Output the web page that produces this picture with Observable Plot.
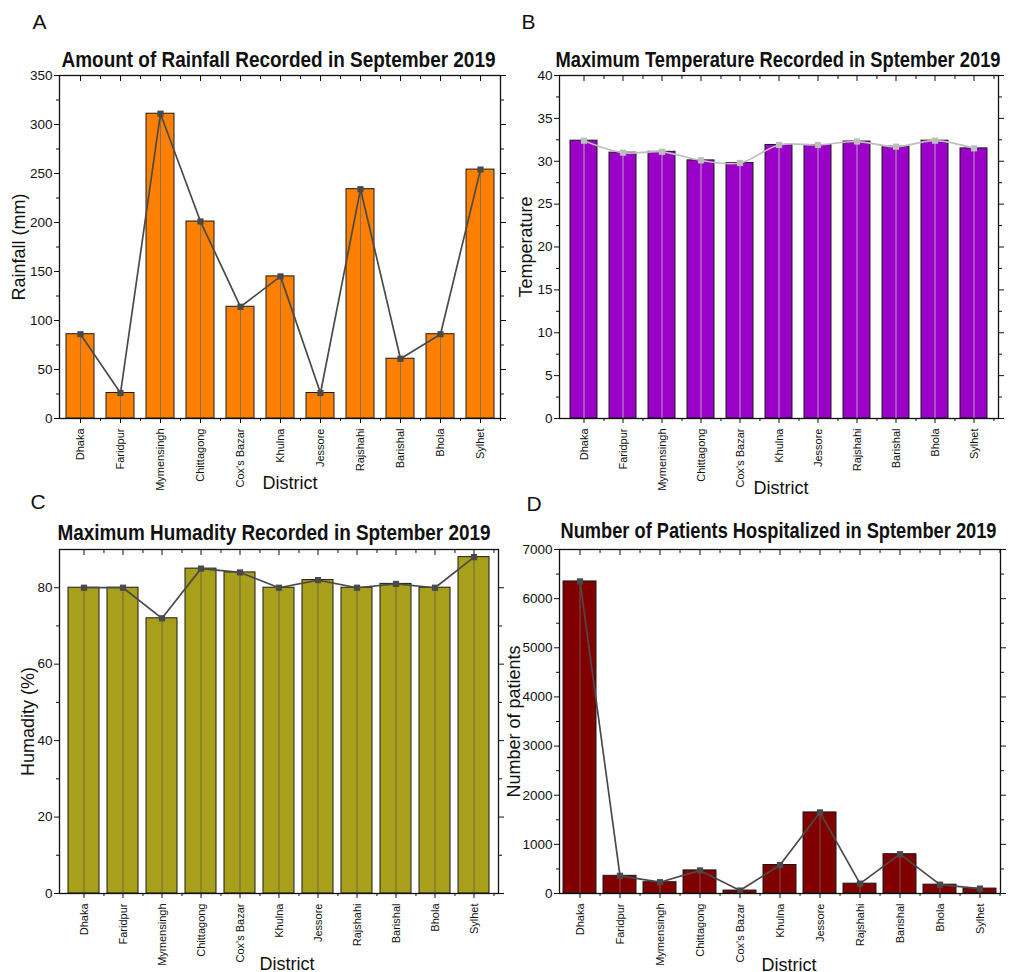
<!DOCTYPE html>
<html>
<head>
<meta charset="utf-8">
<script src="https://cdn.jsdelivr.net/npm/d3@7"></script>
<script src="https://cdn.jsdelivr.net/npm/@observablehq/plot@0.6"></script>
<style>
  html, body { margin: 0; padding: 0; background: #fff; }
  #wrap { position: relative; width: 1016px; height: 972px; overflow: hidden; font-family: "Liberation Sans", Arial, sans-serif; }
  .panel { position: absolute; }
</style>
</head>
<body>
<div id="wrap">
  <div class="panel" id="pA" style="left:0px;top:0px"></div>
  <div class="panel" id="pB" style="left:508px;top:0px"></div>
  <div class="panel" id="pC" style="left:0px;top:490px"></div>
  <div class="panel" id="pD" style="left:508px;top:490px"></div>
</div>
<script>
const districts = ["Dhaka", "Faridpur", "Mymensingh", "Chittagong", "Cox's Bazar", "Khulna", "Jessore", "Rajshahi", "Barishal", "Bhola", "Sylhet"];

const rainfall    = [86, 26, 311, 201, 114, 145, 26, 234, 61, 86, 254];
const temperature = [32.4, 31.0, 31.1, 30.1, 29.8, 31.9, 31.9, 32.3, 31.7, 32.4, 31.5];
const humidity    = [80, 80, 72, 85, 84, 80, 82, 80, 81, 80, 88];
const patients    = [6350, 360, 230, 470, 60, 580, 1650, 200, 800, 180, 100];

const rainMajor = [0, 50, 100, 150, 200, 250, 300, 350];
const rainMinor = [25, 75, 125, 175, 225, 275, 325];
const tempMajor = [0, 5, 10, 15, 20, 25, 30, 35, 40];
const tempMinor = [2.5, 7.5, 12.5, 17.5, 22.5, 27.5, 32.5, 37.5];
const humMajor  = [0, 20, 40, 60, 80];
const humMinor  = [10, 30, 50, 70];
const patMajor  = [0, 1000, 2000, 3000, 4000, 5000, 6000, 7000];
const patMinor  = [500, 1500, 2500, 3500, 4500, 5500, 6500];

const titles = {
  A: "Amount of Rainfall Recorded in September 2019",
  B: "Maximum Temperature Recorded in Sptember 2019",
  C: "Maximum Humadity Recorded in Sptember 2019",
  D: "Number of Patients Hospitalized in Sptember 2019"
};
const ylabels = { A: "Rainfall (mm)", B: "Temperature", C: "Humadity (%)", D: "Number of patients" };
const xlabel = "District";

function makePanel(cfg) {
  const data = districts.map((d, i) => ({ district: d, value: cfg.values[i] }));
  const m = cfg.margin;
  const step = (cfg.width - m.left - m.right) / districts.length;
  const font = "'Liberation Sans', Arial, sans-serif";
  const svg = Plot.plot({
    width: cfg.width,
    height: cfg.height,
    marginLeft: m.left, marginRight: m.right, marginTop: m.top, marginBottom: m.bottom,
    style: { fontFamily: font, background: "transparent", overflow: "visible", color: "#111" },
    x: { type: "band", domain: districts, paddingInner: cfg.padding, paddingOuter: cfg.padding / 2, label: null },
    y: { domain: cfg.yDomain, label: null },
    marks: [
      Plot.barY(data, { x: "district", y: "value", fill: cfg.color, stroke: "#1a1a1a", strokeWidth: 1 }),
      Plot.ruleX(data, { x: "district", y1: 0, y2: "value", stroke: cfg.dropColor, strokeWidth: 1, strokeOpacity: 0.8 }),
      Plot.line(data, { x: "district", y: "value", stroke: cfg.lineColor, strokeWidth: 1.7, curve: cfg.curve }),
      Plot.dot(data, { x: "district", y: "value", symbol: "square", fill: cfg.lineColor, r: 3.5 }),
      Plot.frame({ stroke: "#111", strokeWidth: 1.3 }),
      Plot.axisY(cfg.yMajor, { anchor: "left", tickSize: 5, tickPadding: 2, fontSize: 13.5, tickFormat: d => String(d), label: null }),
      Plot.axisY(cfg.yMinor, { anchor: "left", tickSize: 3, text: null, label: null }),
      Plot.axisY(cfg.yMajor, { anchor: "right", tickSize: 5, text: null, label: null }),
      Plot.axisY(cfg.yMinor, { anchor: "right", tickSize: 3, text: null, label: null }),
      Plot.axisX({ anchor: "bottom", tickSize: 5, tickRotate: -90, fontSize: 11, tickPadding: 5, label: null }),
      Plot.axisX({ anchor: "bottom", tickSize: 3, text: null, label: null, dx: step / 2 }),
      Plot.axisX({ anchor: "top", tickSize: -5, text: null, label: null }),
      Plot.axisX({ anchor: "top", tickSize: -3, text: null, label: null, dx: step / 2 }),
      Plot.text([cfg.title], { frameAnchor: "top-left", textAnchor: "start", lineAnchor: "bottom", dx: cfg.titleDx, dy: cfg.titleDy, fontSize: 22.5, fontWeight: "bold", fill: "#111" }),
      Plot.text([cfg.letter], { frameAnchor: "top-left", textAnchor: "start", lineAnchor: "bottom", dx: cfg.letterDx, dy: cfg.letterDy, fontSize: 21, fill: "#111" }),
      Plot.text([cfg.ylabel], { frameAnchor: "left", rotate: -90, textAnchor: "middle", dx: cfg.ylabelDx, fontSize: 18, fill: "#111" }),
      Plot.text([xlabel], { frameAnchor: "bottom", textAnchor: "middle", lineAnchor: "bottom", dx: cfg.xlabelDx, dy: cfg.xlabelDy, fontSize: 18, fill: "#111" })
    ]
  });
  svg.querySelectorAll("text").forEach(t => {
    if (t.textContent === cfg.title) {
      t.setAttribute("textLength", cfg.titleLen);
      t.setAttribute("lengthAdjust", "spacingAndGlyphs");
    }
  });
  document.getElementById(cfg.el).appendChild(svg);
}

makePanel({
  el: "pA", letter: "A", title: titles.A, ylabel: ylabels.A, values: rainfall,
  color: "#FF8000", lineColor: "#4a4a4a", dropColor: "#6a6a6a",
  yDomain: [0, 350], yMajor: rainMajor, yMinor: rainMinor, padding: 0.3, curve: "linear",
  width: 508, height: 490, margin: { left: 59, right: 8, top: 75, bottom: 72 },
  titleDx: 2, titleDy: -9, titleLen: 434, letterDx: -27, letterDy: -47,
  ylabelDx: -40, xlabelDx: 10, xlabelDy: 70
});
makePanel({
  el: "pB", letter: "B", title: titles.B, ylabel: ylabels.B, values: temperature,
  color: "#9A00C8", lineColor: "#BDBDBD", dropColor: "#C8C8C8",
  yDomain: [0, 40], yMajor: tempMajor, yMinor: tempMinor, padding: 0.3, curve: "catmull-rom",
  width: 508, height: 490, margin: { left: 51, right: 18, top: 75, bottom: 72 },
  titleDx: -4, titleDy: -9, titleLen: 445, letterDx: -38, letterDy: -47,
  ylabelDx: -33, xlabelDx: 2, xlabelDy: 75
});
makePanel({
  el: "pC", letter: "C", title: titles.C, ylabel: ylabels.C, values: humidity,
  color: "#A8A01A", lineColor: "#4a4a4a", dropColor: "#5a5a4a",
  yDomain: [0, 90], yMajor: humMajor, yMinor: humMinor, padding: 0.2, curve: "linear",
  width: 508, height: 482, margin: { left: 59, right: 10, top: 59, bottom: 79 },
  titleDx: -2, titleDy: -10, titleLen: 433, letterDx: -29, letterDy: -41,
  ylabelDx: -31, xlabelDx: 8, xlabelDy: 76
});
makePanel({
  el: "pD", letter: "D", title: titles.D, ylabel: ylabels.D, values: patients,
  color: "#800000", lineColor: "#4a4a4a", dropColor: "#6a6a6a",
  yDomain: [0, 7000], yMajor: patMajor, yMinor: patMinor, padding: 0.17, curve: "linear",
  width: 508, height: 482, margin: { left: 51, right: 16, top: 59, bottom: 79 },
  titleDx: 1, titleDy: -12, titleLen: 436, letterDx: -33, letterDy: -39,
  ylabelDx: -45, xlabelDx: 9, xlabelDy: 77
});
</script>
</body>
</html>
